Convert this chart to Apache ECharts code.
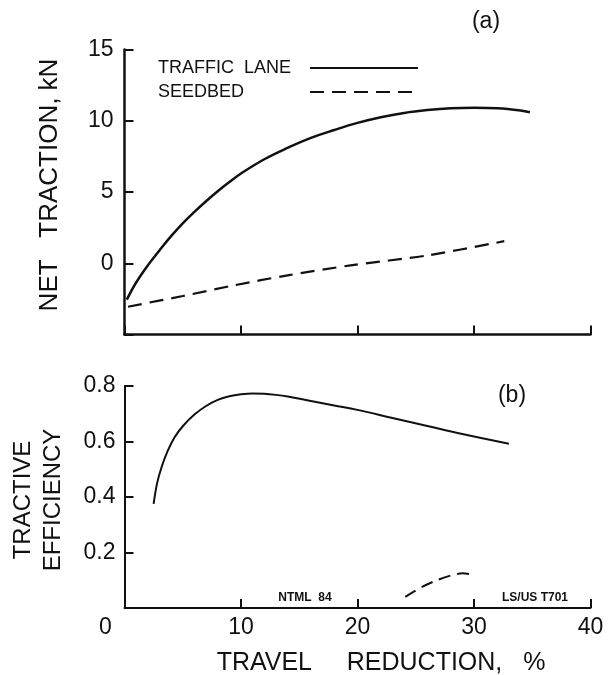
<!DOCTYPE html>
<html>
<head>
<meta charset="utf-8">
<script src="https://cdn.jsdelivr.net/npm/echarts@6/dist/echarts.min.js"></script>
<style>
html,body{margin:0;padding:0;background:#fff;}
#main{width:610px;height:675px;}
</style>
</head>
<body>
<div id="main"></div>
<script>
// ---- data ----
var xTicks = [0, 10, 20, 30, 40];
var tractionTicks = [-5, 0, 5, 10, 15];
var efficiencyTicks = [0, 0.2, 0.4, 0.6, 0.8];

// (a) Net traction, kN vs travel reduction, %
var trafficLaneTraction = [[0.2,-2.55],[1,-1.35],[2,-0.15],[3,0.9],[4,1.9],[5,2.8],[6,3.6],[7,4.35],[8,5.05],[9,5.7],[10,6.3],[12,7.3],[14,8.1],[16,8.8],[18,9.35],[20,9.85],[22,10.25],[24,10.55],[26,10.75],[28,10.88],[30,10.92],[32,10.88],[34,10.72],[34.8,10.6]];
var seedbedTraction = [[0.3,-3.05],[5,-2.3],[9.4,-1.55],[14,-0.85],[19.4,-0.15],[26,0.55],[32.6,1.55]];

// (b) Tractive efficiency vs travel reduction, %
var trafficLaneEfficiency = [[2.5,0.375],[2.8,0.45],[3.2,0.51],[3.7,0.565],[4.3,0.615],[5,0.655],[6,0.697],[7,0.728],[8,0.75],[9,0.763],[10,0.77],[11,0.773],[12,0.772],[13,0.768],[14,0.762],[16,0.746],[18,0.73],[20,0.714],[23,0.685],[26,0.656],[29,0.627],[33,0.592]];
var seedbedEfficiency = [[24.1,0.04],[25.5,0.075],[26.8,0.1],[28,0.117],[29,0.125],[30,0.12]];

var seriesNames = ['TRAFFIC  LANE', 'SEEDBED'];
var panelLabels = ['(a)', '(b)'];
var notes = ['NTML  84', 'LS/US T701'];
var yTitleTop = 'NET   TRACTION, kN';
var yTitleBottom = 'TRACTIVE\nEFFICIENCY';
var xTitle = 'TRAVEL     REDUCTION,   %';

// ---- chart ----
var FONT = 'Liberation Sans';
var INK = '#111';
var chart = echarts.init(document.getElementById('main'), null, {renderer:'canvas'});

function baseAxisLine(w){ return {show:true, onZero:false, lineStyle:{color:INK, width:w}}; }

var option = {
  backgroundColor:'#fff',
  animation:false,
  grid:[
    {left:124.5, right:19.5, top:49.5, height:285},
    {left:124.5, right:19.5, top:386, height:222}
  ],
  legend:{
    data:seriesNames,
    left:158, top:59,
    padding:0,
    orient:'vertical',
    align:'right',
    itemWidth:108, itemHeight:10, itemGap:6,
    selectedMode:false,
    itemStyle:{color:'rgba(0,0,0,0)', borderColor:'rgba(0,0,0,0)', borderWidth:0},
    formatter:'{n|{name}}',
    textStyle:{fontFamily:FONT, fontSize:18, color:INK,
      rich:{n:{width:147, align:'left', fontFamily:FONT, fontSize:18, lineHeight:18, color:INK}}}
  },
  xAxis:[
    {gridIndex:0, type:'value', min:xTicks[0], max:xTicks[xTicks.length-1], interval:10,
     axisLine:baseAxisLine(2.5), axisTick:{show:true, inside:true, length:9, lineStyle:{color:INK, width:2}},
     axisLabel:{show:false}, splitLine:{show:false}},
    {gridIndex:1, type:'value', min:xTicks[0], max:xTicks[xTicks.length-1], interval:10,
     axisLine:baseAxisLine(2), axisTick:{show:true, inside:true, length:9, lineStyle:{color:INK, width:2}},
     axisLabel:{show:true, margin:8, color:INK, fontFamily:FONT, fontSize:23,
       formatter:function(v){ return v===0 ? '{z|0}' : String(v); },
       rich:{z:{fontFamily:FONT, fontSize:23, color:INK, padding:[0,38,0,0]}}},
     splitLine:{show:false}}
  ],
  yAxis:[
    {gridIndex:0, type:'value', min:tractionTicks[0], max:tractionTicks[tractionTicks.length-1], interval:5,
     axisLine:baseAxisLine(2.5), axisTick:{show:true, inside:true, length:9, lineStyle:{color:INK, width:2}},
     axisLabel:{show:true, margin:11, color:INK, fontFamily:FONT, fontSize:23,
       formatter:function(v){ return v===-5 ? '' : String(v); }},
     splitLine:{show:false}},
    {gridIndex:1, type:'value', min:efficiencyTicks[0], max:efficiencyTicks[efficiencyTicks.length-1], interval:0.2,
     axisLine:baseAxisLine(2), axisTick:{show:true, inside:true, length:9, lineStyle:{color:INK, width:2}},
     axisLabel:{show:true, margin:9, color:INK, fontFamily:FONT, fontSize:23,
       formatter:function(v){ return v===0 ? '' : v.toFixed(1); }},
     splitLine:{show:false}}
  ],
  series:[
    {name:seriesNames[0], type:'line', xAxisIndex:0, yAxisIndex:0, data:trafficLaneTraction,
     smooth:0.4, symbol:'none', lineStyle:{color:INK, width:2.5}, itemStyle:{color:INK}},
    {name:seriesNames[1], type:'line', xAxisIndex:0, yAxisIndex:0, data:seedbedTraction,
     smooth:0.3, symbol:'none', lineStyle:{color:INK, width:2.2, type:[14,8]}, itemStyle:{color:INK}},
    {name:'efficiency-traffic', type:'line', xAxisIndex:1, yAxisIndex:1, data:trafficLaneEfficiency,
     smooth:0.4, symbol:'none', lineStyle:{color:INK, width:2}, itemStyle:{color:INK}},
    {name:'efficiency-seedbed', type:'line', xAxisIndex:1, yAxisIndex:1, data:seedbedEfficiency,
     smooth:0.3, symbol:'none', lineStyle:{color:INK, width:2, type:[12,7]}, itemStyle:{color:INK}}
  ],
  graphic:[
    {type:'text', x:50, y:185, rotation:Math.PI/2,
     style:{text:yTitleTop, fontFamily:FONT, fontSize:26, fill:INK, align:'center', verticalAlign:'middle'}},
    {type:'text', x:38, y:500, rotation:Math.PI/2,
     style:{text:yTitleBottom, fontFamily:FONT, fontSize:24, lineHeight:30, fill:INK, align:'center', verticalAlign:'middle'}},
    {type:'text', x:381, y:663,
     style:{text:xTitle, fontFamily:FONT, fontSize:25, fill:INK, align:'center', verticalAlign:'middle'}},
    {type:'text', x:486, y:22,
     style:{text:panelLabels[0], fontFamily:FONT, fontSize:23, fill:INK, align:'center', verticalAlign:'middle'}},
    {type:'text', x:512, y:396,
     style:{text:panelLabels[1], fontFamily:FONT, fontSize:23, fill:INK, align:'center', verticalAlign:'middle'}},
    {type:'text', x:305, y:598,
     style:{text:notes[0], fontFamily:FONT, fontSize:12, fontWeight:'bold', fill:INK, align:'center', verticalAlign:'middle'}},
    {type:'text', x:535, y:598,
     style:{text:notes[1], fontFamily:FONT, fontSize:12, fontWeight:'bold', fill:INK, align:'center', verticalAlign:'middle'}}
  ]
};
chart.setOption(option);
</script>
</body>
</html>
